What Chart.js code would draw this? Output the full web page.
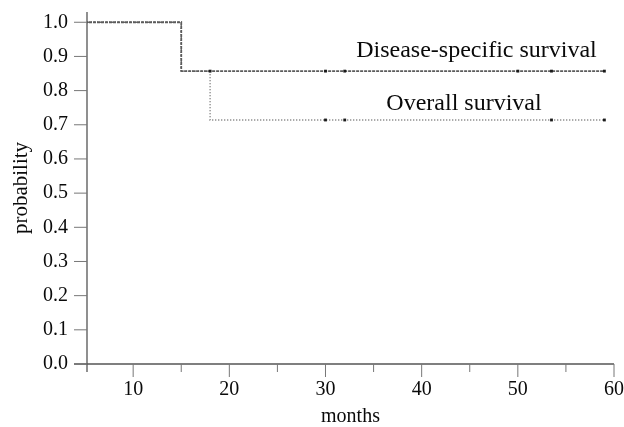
<!DOCTYPE html>
<html>
<head>
<meta charset="utf-8">
<script src="https://cdn.jsdelivr.net/npm/chart.js@4/dist/chart.umd.min.js"></script>
<style>
  html, body { margin: 0; padding: 0; background: #fff; }
  #wrap { width: 624px; height: 427px; position: relative; }
</style>
</head>
<body>
<div id="wrap"><canvas id="chart"></canvas></div>
<script>
// Kaplan-Meier steps (months, probability)
const dssMonths = [0, 15, 59];
const dssProb = [1.0, 0.857, 0.857];
const dssCensored = [18, 30, 32, 50, 53.5, 59];

const osMonths = [0, 15, 18, 59];
const osProb = [1.0, 0.857, 0.714, 0.714];
const osCensored = [30, 32, 53.5, 59];

const xTicks = [10, 20, 30, 40, 50, 60];
const xMinorTicks = [15, 25, 35, 45, 55];
const yTicks = [0.0, 0.1, 0.2, 0.3, 0.4, 0.5, 0.6, 0.7, 0.8, 0.9, 1.0];

const curveLabels = ['Disease-specific survival', 'Overall survival'];

const SERIF = '"Liberation Serif", "DejaVu Serif", serif';

function stepPoints(xs, ys) {
    return xs.map((x, i) => ({ x: x, y: ys[i] }));
}

// value of a step curve at a given month
function stepValue(xs, ys, m) {
    let v = ys[0];
    for (let i = 0; i < xs.length; i++) {
        if (xs[i] <= m) v = ys[i];
    }
    return v;
}

function censorPoints(marks, xs, ys) {
    return marks.map(m => ({ x: m, y: stepValue(xs, ys, m) }));
}

// keep Chart.js from adding room for overhanging tick labels
function noLabelPadding(scale) {
    scale.paddingTop = 0;
    scale.paddingBottom = 0;
    scale.paddingLeft = 0;
    scale.paddingRight = 0;
}

const axesPlugin = {
    id: 'kmAxes',
    afterDraw(chart) {
        const ctx = chart.ctx;
        const xs = chart.scales.x;
        const ys = chart.scales.y;
        const x0 = xs.getPixelForValue(xs.min);
        const y0 = ys.getPixelForValue(0);
        const yTop = ys.getPixelForValue(ys.max);
        const xEnd = xs.getPixelForValue(60);

        ctx.save();
        ctx.strokeStyle = '#555';
        ctx.lineWidth = 1.3;

        ctx.beginPath();
        ctx.moveTo(x0 - 13, y0);
        ctx.lineTo(xEnd, y0);
        ctx.moveTo(x0, y0 + 8);
        ctx.lineTo(x0, yTop);
        ctx.stroke();

        ctx.lineWidth = 1;
        ctx.strokeStyle = '#777';
        ctx.beginPath();
        xTicks.forEach(v => {
            const px = xs.getPixelForValue(v);
            ctx.moveTo(px, y0);
            ctx.lineTo(px, y0 + 13);
        });
        xMinorTicks.forEach(v => {
            const px = xs.getPixelForValue(v);
            ctx.moveTo(px, y0);
            ctx.lineTo(px, y0 + 8);
        });
        yTicks.forEach(v => {
            const py = ys.getPixelForValue(v);
            ctx.moveTo(x0 - 13, py);
            ctx.lineTo(x0, py);
        });
        ctx.stroke();

        // curve names
        ctx.fillStyle = '#0a0a0a';
        ctx.font = '24px ' + SERIF;
        ctx.textAlign = 'center';
        ctx.textBaseline = 'alphabetic';
        ctx.fillText(curveLabels[0], xs.getPixelForValue(45.7), ys.getPixelForValue(0.899));
        ctx.fillText(curveLabels[1], xs.getPixelForValue(44.4), ys.getPixelForValue(0.744));
        ctx.restore();
    }
};

const ctx = document.getElementById('chart').getContext('2d');

new Chart(ctx, {
    type: 'scatter',
    data: {
        datasets: [
            {
                label: curveLabels[0] + ' censored',
                data: censorPoints(dssCensored, dssMonths, dssProb),
                pointStyle: 'rect',
                pointRadius: 2,
                backgroundColor: '#1a1a1a',
                borderColor: '#1a1a1a',
                borderWidth: 0
            },
            {
                label: curveLabels[1] + ' censored',
                data: censorPoints(osCensored, osMonths, osProb),
                pointStyle: 'rect',
                pointRadius: 2,
                backgroundColor: '#1a1a1a',
                borderColor: '#1a1a1a',
                borderWidth: 0
            },
            {
                label: curveLabels[0],
                type: 'line',
                data: stepPoints(dssMonths, dssProb),
                stepped: true,
                borderColor: '#5c5c5c',
                borderWidth: 1.8,
                borderDash: [3, 1],
                pointRadius: 0,
                fill: false
            },
            {
                label: curveLabels[1],
                type: 'line',
                data: stepPoints(osMonths, osProb),
                stepped: true,
                borderColor: '#6a6a6a',
                borderWidth: 1.4,
                borderDash: [1, 2],
                pointRadius: 0,
                fill: false
            }
        ]
    },
    options: {
        responsive: true,
        maintainAspectRatio: false,
        animation: false,
        layout: {
            padding: { top: 12, right: 10, left: 0, bottom: 0 }
        },
        plugins: {
            legend: { display: false },
            tooltip: { enabled: false }
        },
        scales: {
            x: {
                type: 'linear',
                min: 5.2,
                max: 60,
                afterBuildTicks: scale => {
                    scale.ticks = xTicks.map(v => ({ value: v }));
                },
                afterFit: scale => {
                    scale.height = 63;
                    noLabelPadding(scale);
                },
                grid: { display: false, drawTicks: false },
                border: { display: false },
                ticks: {
                    padding: 14,
                    color: '#0a0a0a',
                    font: { family: SERIF, size: 20 },
                    callback: v => String(v)
                },
                title: {
                    display: true,
                    text: 'months',
                    color: '#0a0a0a',
                    padding: 0,
                    font: { family: SERIF, size: 20, lineHeight: 1 }
                }
            },
            y: {
                type: 'linear',
                min: 0,
                max: 1.03,
                afterBuildTicks: scale => {
                    scale.ticks = yTicks.map(v => ({ value: v }));
                },
                afterFit: scale => {
                    scale.width = 87;
                    noLabelPadding(scale);
                },
                grid: { display: false, drawTicks: false },
                border: { display: false },
                ticks: {
                    padding: 19,
                    color: '#0a0a0a',
                    font: { family: SERIF, size: 20 },
                    callback: v => v.toFixed(1)
                },
                title: {
                    display: true,
                    text: 'probability',
                    color: '#0a0a0a',
                    padding: { top: 9, bottom: 0 },
                    font: { family: SERIF, size: 21, lineHeight: 1.2 }
                }
            }
        }
    },
    plugins: [axesPlugin]
});
</script>
</body>
</html>
